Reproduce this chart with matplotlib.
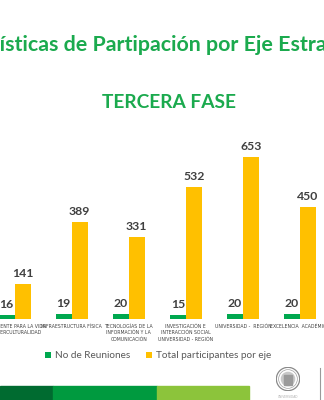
import matplotlib
matplotlib.use("Agg")
import matplotlib.pyplot as plt
from matplotlib.patches import Rectangle, Circle
from matplotlib.lines import Line2D
import numpy as np

# Data
categories = [
    "PERTINENTE PARA LA VIDA\nE INTERCULTURALIDAD",
    "INFRAESTRUCTURA FÍSICA",
    "TECNOLOGÍAS DE LA\nINFORMACIÓN Y LA\nCOMUNICACIÓN",
    "INVESTIGACIÓN E\nINTERACCIÓN SOCIAL\nUNIVERSIDAD - REGIÓN",
    "UNIVERSIDAD -  REGIÓN",
    "EXCELENCIA  ACADÉMICA",
]
reuniones = [16, 19, 20, 15, 20, 20]
participantes = [141, 389, 331, 532, 653, 450]
series_names = ["No de Reuniones", "Total participantes por eje"]

GREEN = "#00A84F"
YELLOW = "#FFC000"
TITLE_GREEN = "#1BAA4E"
LABEL_GREY = "#404040"

W, H = 324, 400
fig = plt.figure(figsize=(W / 100, H / 100), dpi=100)
fig.patch.set_facecolor("white")

# Plot area laid out in pixel units of the slide
spacing = 57.1
x0 = 14.5
left_px = x0 - 0.5 * spacing
right_px = x0 + 5.5 * spacing
base_px = 319
ymax = 700
top_px = base_px - 162 / 653 * ymax
ax = fig.add_axes([left_px / W, 1 - base_px / H,
                   (right_px - left_px) / W, (base_px - top_px) / H])
ax.set_xlim(-0.5, 5.5)
ax.set_ylim(0, ymax)
ax.axis("off")

x = np.arange(len(categories))
bw = 16 / spacing
b1 = ax.bar(x - bw / 2, reuniones, width=bw, color=GREEN, label=series_names[0])
b2 = ax.bar(x + bw / 2, participantes, width=bw, color=YELLOW, label=series_names[1])

val_font = dict(family=["Lato", "DejaVu Sans"], fontsize=8.8, fontweight="bold",
                color=LABEL_GREY)
for bars, vals in ((b1, reuniones), (b2, participantes)):
    for rect, v in zip(bars, vals):
        ax.annotate(f"{v}", (rect.get_x() + rect.get_width() / 2, v),
                    xytext=(0, 5), textcoords="offset pixels",
                    ha="center", va="bottom", **val_font)

for xi, lab in zip(x, categories):
    ax.annotate(lab, (xi, 0), xytext=(0, -5), textcoords="offset pixels",
                ha="center", va="top", fontsize=3.3, color=LABEL_GREY,
                family=["Liberation Sans Narrow", "DejaVu Sans"],
                linespacing=1.35)

# Legend
leg = fig.legend(handles=[b1, b2], labels=series_names, loc="center",
                 bbox_to_anchor=(158 / W, 1 - 356 / H), ncol=2, frameon=False,
                 prop=dict(family=["Lato", "DejaVu Sans"], size=7.2),
                 handlelength=0.6, handleheight=0.6, handletextpad=0.4,
                 columnspacing=1.5, labelcolor="#595959")

# Titles
fig.text(166 / W, 1 - 51 / H, "Estadísticas de Partipación por Eje Estratégico",
         ha="center", va="baseline", fontsize=15.4, fontweight="bold",
         color=TITLE_GREEN, family=["Lato", "DejaVu Sans"])
fig.text(169.5 / W, 1 - 108 / H, "TERCERA FASE", ha="center", va="baseline",
         fontsize=13.8, fontweight="bold", color=TITLE_GREEN,
         family=["Lato", "DejaVu Sans"])

# Footer colour band
for xa, xb, c in ((0, 53, "#006B30"), (53, 157, "#009A3F"), (157, 249, "#8CC43B")):
    fig.patches.append(Rectangle((xa / W, 0), (xb - xa) / W, 14 / H,
                                 transform=fig.transFigure, color=c, zorder=1))

# Seal
sax = fig.add_axes([276 / W, 1 - 391 / H, 24 / W, 24 / H])
sax.set_xlim(-1, 1)
sax.set_ylim(-1, 1)
sax.set_aspect("equal")
sax.axis("off")
sax.add_patch(Circle((0, 0), 0.97, fill=False, ec="#8a8a8a", lw=0.9))
sax.add_patch(Circle((0, 0), 0.78, fill=False, ec="#a0a0a0", lw=0.5))
sax.add_patch(Circle((0, 0), 0.55, color="#c8c8c8"))
sax.add_patch(Rectangle((-0.32, -0.48), 0.64, 0.85, color="#9a9a9a"))
fig.lines.append(Line2D([320 / W, 320 / W], [0, 1 - 368 / H],
                        transform=fig.transFigure, color="#9a9a9a", lw=0.8))
fig.text(288 / W, 1 - 397 / H, "UNIVERSIDAD", ha="center", va="center",
         fontsize=2.2, color="#b0b0b0")

fig.savefig("out.png", dpi=100)
